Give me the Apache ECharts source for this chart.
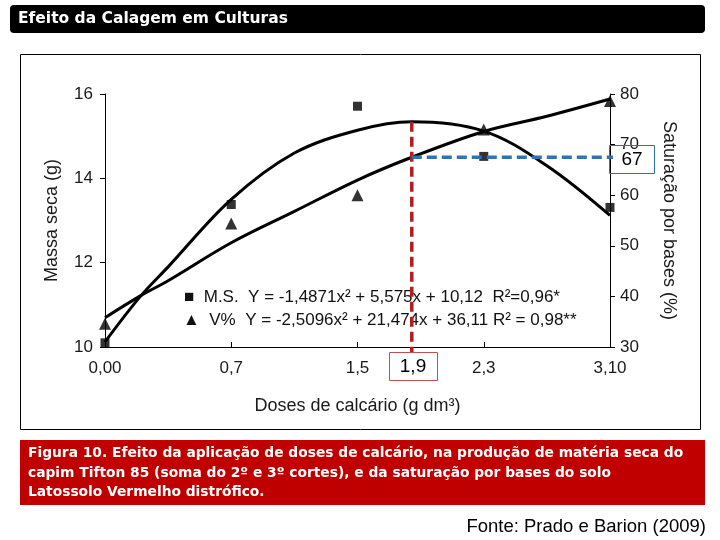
<!DOCTYPE html>
<html>
<head>
<meta charset="utf-8">
<script src="https://cdn.jsdelivr.net/npm/echarts@6/dist/echarts.min.js"></script>
<style>html,body{margin:0;padding:0;background:#fff}#c{width:720px;height:540px}</style>
</head>
<body>
<div id="c"></div>
<script>
// ---- data ----
const doseLabels = ['0,00', '0,7', '1,5', '2,3', '3,10'];
const pointPos = [0, 1, 2, 3, 4];
const msObserved = [10.1, 13.38, 15.71, 14.52, 13.31];
const vObserved = [34.6, 54.4, 60.0, 73.0, 78.6];
const curvePos = [0, 0.28, 0.5, 1, 1.5, 2, 2.43, 3, 3.5, 4];
const msCurve = [10.12, 11.2, 11.9, 13.5, 14.6, 15.14, 15.34, 15.12, 14.3, 13.12];
const vCurve = [35.8, 40.1, 43.1, 50.6, 56.8, 63.0, 67.5, 72.6, 75.6, 79.0];
const optimumPos = 2.43;      // position of dose 1,9 on the axis
const optimumMS = 15.34;
const optimumLow = 9.86;
const optimumV = 67.5;
const lineEndPos = 4.1;
const leftTicks = [10, 16, 2];
const rightTicks = [30, 80, 10];

const chart = echarts.init(document.getElementById('c'), null, {renderer: 'canvas'});
const sans = '"Liberation Sans", Arial, sans-serif';
const axisFont = {fontFamily: sans, fontSize: 17, color: '#1a1a1a'};
const titleFont = {fontFamily: sans, fontSize: 18, color: '#1a1a1a'};
const black = '#000';
const capFont = 'bold 13.8px "DejaVu Sans", sans-serif';

chart.setOption({
  animation: false,
  backgroundColor: '#fff',
  grid: {left: 105, right: 110, top: 94, bottom: 193, containLabel: false},
  xAxis: {
    type: 'value', min: 0, max: 4, interval: 1,
    name: 'Doses de calcário (g dm³)', nameLocation: 'middle', nameGap: 50,
    nameTextStyle: titleFont,
    axisLine: {lineStyle: {color: black, width: 1}},
    axisTick: {show: true, inside: true, length: 5, lineStyle: {color: black}},
    splitLine: {show: false},
    axisLabel: Object.assign({margin: 13, formatter: v => doseLabels[Math.round(v)] || ''}, axisFont)
  },
  yAxis: [{
    type: 'value', min: leftTicks[0], max: leftTicks[1], interval: leftTicks[2],
    name: 'Massa seca (g)', nameLocation: 'middle', nameGap: 44,
    nameTextStyle: titleFont,
    axisLine: {show: true, lineStyle: {color: black, width: 1}},
    axisTick: {show: true, length: 5, lineStyle: {color: black}},
    splitLine: {show: false},
    axisLabel: Object.assign({margin: 12}, axisFont)
  }, {
    type: 'value', min: rightTicks[0], max: rightTicks[1], interval: rightTicks[2],
    position: 'right',
    name: 'Saturação por bases (%)', nameLocation: 'middle', nameGap: 50, nameRotate: -90,
    nameTextStyle: titleFont,
    axisLine: {show: true, lineStyle: {color: black, width: 1}},
    axisTick: {show: true, length: 5, lineStyle: {color: black}},
    splitLine: {show: false},
    axisLabel: Object.assign({margin: 10}, axisFont)
  }],
  series: [
    {
      name: 'M.S. ajuste', type: 'line', yAxisIndex: 0, smooth: 0.35, showSymbol: false,
      data: curvePos.map((p, i) => [p, msCurve[i]]),
      lineStyle: {color: black, width: 3}, z: 3
    },
    {
      name: 'V% ajuste', type: 'line', yAxisIndex: 1, smooth: 0.35, showSymbol: false,
      data: curvePos.map((p, i) => [p, vCurve[i]]),
      lineStyle: {color: black, width: 3}, z: 3
    },
    {
      name: 'M.S.', type: 'scatter', yAxisIndex: 0, symbol: 'rect', symbolSize: 9,
      data: pointPos.map((p, i) => [p, msObserved[i]]),
      itemStyle: {color: black}, z: 4
    },
    {
      name: 'V%', type: 'scatter', yAxisIndex: 1, symbol: 'triangle', symbolSize: 12,
      data: pointPos.map((p, i) => [p, vObserved[i]]),
      itemStyle: {color: black}, z: 4
    },
    {
      name: 'Dose ótima', type: 'line', yAxisIndex: 0, showSymbol: false, clip: false,
      data: [[optimumPos, optimumMS], [optimumPos, optimumLow]],
      lineStyle: {color: '#b01e1e', width: 3.5, type: [10, 5]}, z: 5
    },
    {
      name: 'V% ótimo', type: 'line', yAxisIndex: 1, showSymbol: false, clip: false,
      data: [[optimumPos, optimumV], [lineEndPos, optimumV]],
      lineStyle: {color: '#2e74b5', width: 3.5, type: [10, 5]}, z: 5
    }
  ],
  graphic: [
    {type: 'rect', shape: {x: 10, y: 5, width: 695, height: 28, r: 4}, style: {fill: '#000'}},
    {type: 'text', x: 18, y: 19, style: {text: 'Efeito da Calagem em Culturas', fill: '#fff', verticalAlign: 'middle',
      font: 'bold 15.5px "DejaVu Sans", sans-serif'}},
    {type: 'rect', shape: {x: 20.5, y: 54.5, width: 680, height: 375}, style: {fill: 'none', stroke: '#000', lineWidth: 1}},
    {type: 'text', x: 184, y: 297, style: {text: '■  M.S.  Y = -1,4871x² + 5,575x + 10,12  R²=0,96*', fill: '#111',
      font: '17px "Liberation Sans", Arial, sans-serif', verticalAlign: 'middle'}},
    {type: 'text', x: 183, y: 320, style: {text: '▲  V%  Y = -2,5096x² + 21,474x + 36,11 R² = 0,98**', fill: '#111',
      font: '17px "Liberation Sans", Arial, sans-serif', verticalAlign: 'middle'}},
    {type: 'rect', shape: {x: 609.5, y: 145.5, width: 45, height: 28}, style: {fill: 'none', stroke: '#2e74b5', lineWidth: 1}, z: 10},
    {type: 'text', x: 632, y: 160, style: {text: '67', fill: '#000', align: 'center', verticalAlign: 'middle',
      font: '19px "Liberation Sans", Arial, sans-serif'}, z: 10},
    {type: 'rect', shape: {x: 389.5, y: 352.5, width: 48, height: 28}, style: {fill: '#fff', stroke: '#c0504d', lineWidth: 1}, z: 10},
    {type: 'text', x: 413, y: 367, style: {text: '1,9', fill: '#000', align: 'center', verticalAlign: 'middle',
      font: '19px "Liberation Sans", Arial, sans-serif'}, z: 11},
    {type: 'rect', shape: {x: 20, y: 440, width: 685, height: 65}, style: {fill: '#c00000'}},
    {type: 'text', x: 28, y: 453, style: {text: 'Figura 10. Efeito da aplicação de doses de calcário, na produção de matéria seca do',
      fill: '#fff', verticalAlign: 'middle', font: capFont}},
    {type: 'text', x: 28, y: 473, style: {text: 'capim Tifton 85 (soma do 2º e 3º cortes), e da saturação por bases do solo',
      fill: '#fff', verticalAlign: 'middle', font: capFont}},
    {type: 'text', x: 28, y: 492, style: {text: 'Latossolo Vermelho distrófico.',
      fill: '#fff', verticalAlign: 'middle', font: capFont}},
    {type: 'text', x: 706, y: 527, style: {text: 'Fonte: Prado e Barion (2009)', fill: '#000', align: 'right',
      verticalAlign: 'middle', font: '18.5px "Liberation Sans", Arial, sans-serif'}}
  ]
});
</script>
</body>
</html>
